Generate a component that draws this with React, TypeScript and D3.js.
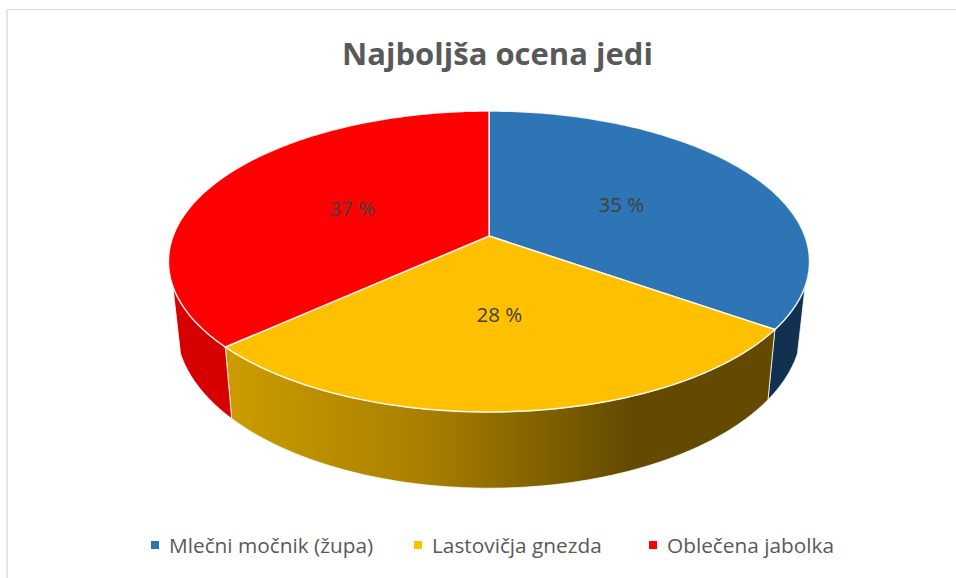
import React from "react";
import * as d3 from "d3";

const categories = ["Mlečni močnik (župa)", "Lastovičja gnezda", "Oblečena jabolka"];
const values = [34.8, 28.45, 36.75];
const topColors = ["#2E75B6", "#FFC000", "#FF0000"];
const sideColors = ["#12304F", "url(#yellowSide)", "#D60000"];
const title = "Najboljša ocena jedi";

const width = 956;
const height = 578;
const cx = 489;
const tilt = -0.1694; // perspective of the disc
const radiusX = 315.9;
const depth = 63.3;
const sideStart = (109 * Math.PI) / 180; // rim is visible between these two
const sideEnd = (251 * Math.PI) / 180;

// point on the unit disc -> screen, with the same perspective the picture has
const project = (x: number, y: number): [number, number] => {
  const w = 1 + tilt * y;
  return [cx + (radiusX * x) / w, (106.2 * y + 236) / w];
};
const onRim = (a: number) => project(Math.sin(a), -Math.cos(a));
const onBottom = (a: number): [number, number] => {
  const [px, py] = onRim(a);
  const w = 1 - tilt * Math.cos(a);
  return [px - 0.024 * (px - cx), py + depth / w];
};

const steps = (a0: number, a1: number) => {
  const n = Math.max(2, Math.ceil((a1 - a0) * 60));
  return d3.range(n + 1).map(i => a0 + ((a1 - a0) * i) / n);
};

const line = d3.line();
const slices = d3.pie<number>().sort(null)(values);

const legendX = [151, 414, 649];

export default function App() {
  return (
    <svg
      width={width}
      height={height}
      style={{ position: "absolute", left: 0, top: 0, background: "#fff" }}
      fontFamily="'Open Sans', sans-serif"
    >
      <defs>
        <linearGradient id="yellowSide" gradientUnits="userSpaceOnUse" x1={226} x2={630} y1={0} y2={0}>
          <stop offset="0" stopColor="#CC9C00" />
          <stop offset="0.5" stopColor="#A87F00" />
          <stop offset="1" stopColor="#634A00" />
        </linearGradient>
      </defs>

      <line x1={7} x2={956} y1={9.5} y2={9.5} stroke="#d9d9d9" strokeWidth={1} />
      <line x1={7} x2={7} y1={9} y2={578} stroke="#e6e6e6" strokeWidth={2} />

      <text x={497.5} y={65} textAnchor="middle" fontSize={31} fontWeight={700} fill="#595959">
        {title}
      </text>

      {/* rim first, the top face goes over it */}
      {slices.map((s, i) => {
        const a0 = Math.max(s.startAngle, sideStart);
        const a1 = Math.min(s.endAngle, sideEnd);
        if (a1 <= a0) return null;
        const top = steps(a0, a1).map(onRim);
        const bottom = steps(a0, a1).map(onBottom).reverse();
        return (
          <path
            key={i}
            d={line([...top, ...bottom])! + "Z"}
            fill={sideColors[i]}
            stroke="#fff"
            strokeOpacity={0.75}
            strokeWidth={1}
          />
        );
      })}
      {slices.map((s, i) => {
        const pts = steps(s.startAngle, s.endAngle).map(onRim);
        return (
          <path
            key={i}
            d={line([project(0, 0), ...pts])! + "Z"}
            fill={topColors[i]}
            stroke="#fff"
            strokeOpacity={0.85}
            strokeWidth={1.5}
            strokeLinejoin="round"
          />
        );
      })}

      {slices.map((s, i) => {
        const mid = (s.startAngle + s.endAngle) / 2;
        const [x, y] = project(0.49 * Math.sin(mid), -0.49 * Math.cos(mid));
        return (
          <text key={i} x={x} y={y + 8} textAnchor="middle" fontSize={20.5} fill="#404040">
            {`${Math.round(values[i])} %`}
          </text>
        );
      })}

      {categories.map((c, i) => (
        <g key={c}>
          <rect x={legendX[i]} y={541} width={8} height={8} fill={topColors[i]} />
          <text x={legendX[i] + 18} y={553} fontSize={20.8} fill="#595959">
            {c}
          </text>
        </g>
      ))}
    </svg>
  );
}
